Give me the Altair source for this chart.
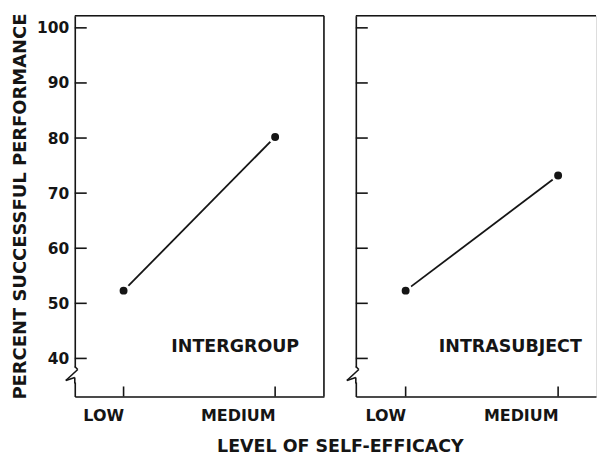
import altair as alt
import pandas as pd

levels = ["LOW", "MEDIUM"]
intergroup = [52.3, 80.2]
intrasubject = [52.3, 73.2]
y_ticks = [40, 50, 60, 70, 80, 90, 100]
panel_labels = ["INTERGROUP", "INTRASUBJECT"]
y_title = "PERCENT SUCCESSFUL PERFORMANCE"
x_title = "LEVEL OF SELF-EFFICACY"

H = 382
Y_DOMAIN = [33.1, 102.2]
FONT = "DejaVu Sans"
INK = "#151515"
SW = 1.6


def seg(x1, y1, x2, y2):
    one = pd.DataFrame({"k": [0]})
    return alt.Chart(one).mark_rule(color=INK, strokeWidth=SW).encode(
        x=alt.value(x1), y=alt.value(y1), x2=alt.value(x2), y2=alt.value(y2))


def panel(values, label, width, xscale, first, right_border, label_x):
    df = pd.DataFrame({"level": levels, "pct": values})
    tick_df = pd.DataFrame({"pct": y_ticks})
    one = pd.DataFrame({"k": [0]})
    yscale = alt.Scale(domain=Y_DOMAIN, nice=False, zero=False)

    if first:
        yaxis = alt.Axis(values=y_ticks, ticks=False, labelFontSize=15.5, labelFont=FONT,
                         labelFontWeight="bold", labelColor=INK, labelPadding=6,
                         domainColor=INK, domainWidth=SW,
                         grid=False, title=y_title, titleFont=FONT, titleFontSize=18,
                         titleFontWeight="bold", titleColor=INK, titlePadding=7)
        xaxis = alt.Axis(ticks=False, labelFontSize=16, labelFont=FONT, labelColor=INK,
                         labelFontWeight="bold",
                         labelPadding=19, domainColor=INK, domainWidth=SW, labelAngle=0,
                         title=x_title, titleFont=FONT, titleFontSize=17.5,
                         titleFontWeight="bold", titleColor=INK, titlePadding=14,
                         titleX=266, titleAlign="center", titleAnchor="start")
    else:
        yaxis = alt.Axis(values=y_ticks, ticks=False, labels=False, domainColor=INK,
                         domainWidth=SW, grid=False, title=None)
        xaxis = alt.Axis(ticks=False, labelFontSize=16, labelFont=FONT, labelColor=INK,
                         labelFontWeight="bold",
                         labelPadding=19, domainColor=INK, domainWidth=SW, labelAngle=0,
                         title=None)

    x = alt.X("level:N", sort=levels, scale=xscale, axis=xaxis)
    y = alt.Y("pct:Q", scale=yscale, axis=yaxis)

    line = alt.Chart(df).mark_line(color=INK, strokeWidth=1.8).encode(x=x, y=y)
    pts = alt.Chart(df).mark_point(filled=True, fill=INK, stroke="white", strokeWidth=3,
                                   opacity=1, size=120).encode(x=x, y=y)
    yt = alt.Chart(tick_df).mark_rule(color=INK, strokeWidth=SW).encode(
        y=alt.Y("pct:Q", scale=yscale), x=alt.value(0), x2=alt.value(12))
    xt = alt.Chart(df).mark_rule(color=INK, strokeWidth=SW).encode(
        x=alt.X("level:N", sort=levels, scale=xscale), y=alt.value(H), y2=alt.value(H - 10))
    top = seg(0, 0, width, 0)
    mask = alt.Chart(one).mark_rect(color="white").encode(
        x=alt.value(-3), x2=alt.value(3), y=alt.value(353), y2=alt.value(368))
    brk = [seg(0, 352, 3, 355), seg(3, 355, -9, 366), seg(-9, 366, 0, 363),
           seg(0, 363, 0, 369)]
    lab = alt.Chart(one).mark_text(text=label, fontSize=17.5, font=FONT, color=INK,
                                   fontWeight="bold",
                                   align="center", baseline="middle").encode(
        x=alt.value(label_x), y=alt.value(332))
    layers = [yt, xt, top, line, pts, mask] + brk + [lab]
    if right_border:
        layers.append(seg(width, 0, width, H))
    return alt.layer(*layers).properties(width=width, height=H)


left = panel(intergroup, panel_labels[0], 250,
             alt.Scale(type="point", padding=0.322), True, True, 161)
right = panel(intrasubject, panel_labels[1], 241,
              alt.Scale(type="point", padding=0.2876, align=0.568), False, False, 155)

chart = alt.hconcat(left, right, spacing=32, bounds="flush").properties(
    padding={"left": 3, "top": 3, "right": 0, "bottom": 0}
).configure_view(stroke=None).configure(background="white")

chart.save("out.html", embed_options={"renderer": "svg", "actions": False})
